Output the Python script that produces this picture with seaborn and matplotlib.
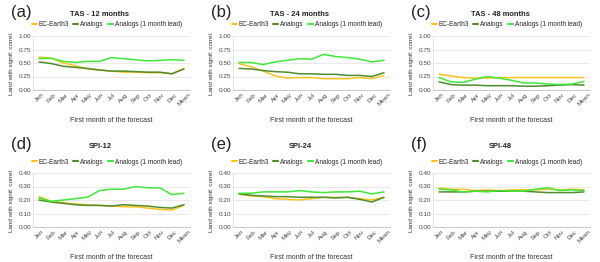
import matplotlib
matplotlib.use("Agg")
import matplotlib.pyplot as plt
import seaborn as sns
import pandas as pd

months = ["Jan", "Feb", "Mar", "Apr", "May", "Jun", "Jul", "Aug", "Sep", "Oct", "Nov", "Dec", "Mean"]
series_names = ["EC-Earth3", "Analogs", "Analogs (1 month lead)"]

# TAS panels
tas12_ec = [0.61, 0.59, 0.50, 0.45, 0.39, 0.37, 0.35, 0.33, 0.33, 0.32, 0.32, 0.30, 0.40]
tas12_an = [0.52, 0.49, 0.44, 0.42, 0.40, 0.37, 0.35, 0.35, 0.34, 0.33, 0.33, 0.30, 0.39]
tas12_lead = [0.58, 0.59, 0.53, 0.51, 0.53, 0.53, 0.60, 0.58, 0.56, 0.54, 0.55, 0.56, 0.55]

tas24_ec = [0.49, 0.43, 0.35, 0.26, 0.22, 0.23, 0.23, 0.21, 0.21, 0.21, 0.23, 0.21, 0.27]
tas24_an = [0.40, 0.39, 0.36, 0.34, 0.33, 0.30, 0.30, 0.29, 0.29, 0.27, 0.27, 0.25, 0.32]
tas24_lead = [0.51, 0.51, 0.47, 0.52, 0.55, 0.58, 0.57, 0.66, 0.62, 0.60, 0.57, 0.52, 0.55]

tas48_ec = [0.29, 0.26, 0.23, 0.22, 0.22, 0.23, 0.23, 0.23, 0.23, 0.23, 0.23, 0.23, 0.23]
tas48_an = [0.15, 0.10, 0.09, 0.09, 0.08, 0.08, 0.08, 0.07, 0.07, 0.08, 0.09, 0.10, 0.09]
tas48_lead = [0.23, 0.15, 0.14, 0.20, 0.25, 0.22, 0.18, 0.13, 0.13, 0.11, 0.10, 0.11, 0.16]

# SPI panels
spi12_ec = [0.225, 0.19, 0.18, 0.17, 0.165, 0.16, 0.155, 0.15, 0.15, 0.14, 0.13, 0.125, 0.16]
spi12_an = [0.20, 0.185, 0.175, 0.165, 0.16, 0.16, 0.155, 0.165, 0.16, 0.155, 0.145, 0.14, 0.165]
spi12_lead = [0.215, 0.19, 0.20, 0.21, 0.22, 0.27, 0.28, 0.28, 0.30, 0.29, 0.29, 0.24, 0.25]

spi24_ec = [0.245, 0.23, 0.225, 0.21, 0.205, 0.20, 0.21, 0.22, 0.22, 0.22, 0.21, 0.20, 0.22]
spi24_an = [0.245, 0.235, 0.23, 0.225, 0.225, 0.22, 0.22, 0.22, 0.215, 0.22, 0.205, 0.185, 0.22]
spi24_lead = [0.25, 0.25, 0.26, 0.26, 0.26, 0.27, 0.26, 0.255, 0.26, 0.26, 0.265, 0.245, 0.26]

spi48_ec = [0.29, 0.28, 0.28, 0.27, 0.275, 0.27, 0.275, 0.275, 0.275, 0.28, 0.275, 0.28, 0.275]
spi48_an = [0.26, 0.26, 0.26, 0.265, 0.265, 0.265, 0.265, 0.265, 0.26, 0.255, 0.255, 0.255, 0.26]
spi48_lead = [0.28, 0.275, 0.26, 0.265, 0.26, 0.27, 0.265, 0.265, 0.28, 0.29, 0.27, 0.275, 0.27]

panel_letters = ["(a)", "(b)", "(c)", "(d)", "(e)", "(f)"]
panel_titles = ["TAS - 12 months", "TAS - 24 months", "TAS - 48 months", "SPI-12", "SPI-24", "SPI-48"]
panel_data = [
    (tas12_ec, tas12_an, tas12_lead),
    (tas24_ec, tas24_an, tas24_lead),
    (tas48_ec, tas48_an, tas48_lead),
    (spi12_ec, spi12_an, spi12_lead),
    (spi24_ec, spi24_an, spi24_lead),
    (spi48_ec, spi48_an, spi48_lead),
]

palette = {"EC-Earth3": "#FFC31F", "Analogs": "#4E8C2E", "Analogs (1 month lead)": "#3FE83A"}

sns.set_style("white")
plt.rcParams["font.family"] = ["Liberation Sans", "DejaVu Sans"]

fig = plt.figure(figsize=(6, 2.62), dpi=100)

for i, (letter, title, vals) in enumerate(zip(panel_letters, panel_titles, panel_data)):
    row, col = divmod(i, 3)
    left = (33 + 200 * col) / 600
    top_px = 36 if row == 0 else 173
    bottom = 1 - (top_px + 54) / 262
    ax = fig.add_axes([left, bottom, 157 / 600, 54 / 262])

    df = pd.DataFrame({
        "month": months * 3,
        "x": list(range(len(months))) * 3,
        "value": list(vals[0]) + list(vals[1]) + list(vals[2]),
        "series": [s for s in series_names for _ in months],
    })
    sns.lineplot(data=df, x="x", y="value", hue="series", palette=palette,
                 hue_order=series_names, linewidth=1.1, ax=ax, legend=False)

    if row == 0:
        ax.set_ylim(0, 1)
        ax.set_yticks([0, 0.25, 0.5, 0.75, 1.0])
    else:
        ax.set_ylim(0, 0.4)
        ax.set_yticks([0, 0.1, 0.2, 0.3, 0.4])
    ax.set_yticklabels([f"{t:.2f}" for t in ax.get_yticks()], fontsize=4.6, color="#444444")
    ax.set_xlim(-0.5, len(months) - 0.5)
    ax.set_xticks(range(len(months)))
    ax.set_xticklabels(months, rotation=45, fontsize=4.6, color="#444444",
                       ha="center", va="top")
    ax.tick_params(axis="both", length=0, pad=1.5)
    ax.grid(axis="y", color="#e2e2e2", linewidth=0.5)
    for s in ["top", "right"]:
        ax.spines[s].set_visible(False)
    ax.spines["left"].set_color("#d9d9d9")
    ax.spines["left"].set_linewidth(0.5)
    ax.spines["bottom"].set_color("#bfbfbf")
    ax.spines["bottom"].set_linewidth(0.6)

    ax.set_xlabel("First month of the forecast", fontsize=5, color="#333333", labelpad=7)
    ax.set_ylabel("Land with signif. correl.", fontsize=4.5, color="#333333", labelpad=3)

    x0 = 200 * col
    y0 = 131 * row
    fig.text((x0 + 11) / 600, 1 - (y0 + 13) / 262, letter, fontsize=12,
             ha="left", va="center", color="#222222")
    fig.text((x0 + 100) / 600, 1 - (y0 + 15) / 262, title, fontsize=5.4,
             fontweight="bold", ha="center", va="center", color="#222222")

    handles = [plt.Line2D([], [], color=palette[s], linewidth=1.5) for s in series_names]
    ax.legend(handles, series_names, loc="center", ncol=3, fontsize=4.7,
              bbox_to_anchor=(0.47, 1 + 11 / 54), frameon=False, handlelength=0.8,
              handletextpad=0.3, columnspacing=0.6, borderaxespad=0)

fig.savefig("out.png", dpi=100)
